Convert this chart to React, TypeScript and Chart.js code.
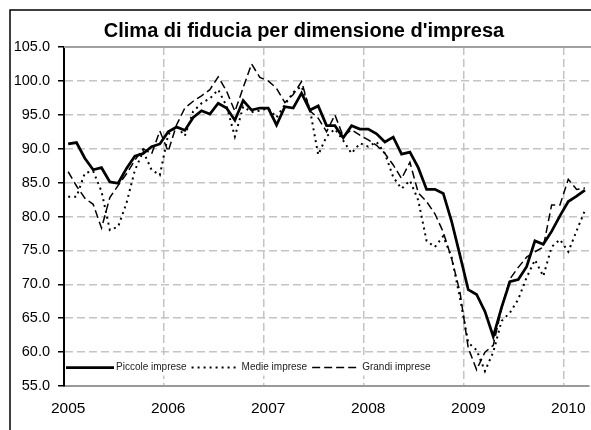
import React, { useEffect, useRef } from 'react';
import { Chart, registerables } from 'chart.js';

Chart.register(...registerables);

const years = ['2005', '2006', '2007', '2008', '2009', '2010'];
const monthsPerYear = [12, 12, 12, 12, 12, 3];

const piccole = [
  90.7, 90.9, 88.6, 86.9, 87.2, 85.1, 84.9, 87.1, 88.9, 89.3, 90.3, 90.7,
  92.5, 93.2, 92.7, 94.6, 95.6, 95.1, 96.7, 96.0, 94.2, 97.1, 95.7, 96.0,
  96.0, 93.5, 96.2, 96.0, 98.2, 95.7, 96.3, 93.4, 93.4, 91.6, 93.4, 92.9,
  92.9, 92.2, 91.0, 91.7, 89.2, 89.5, 87.2, 84.0, 84.0, 83.4, 79.3, 74.3,
  69.2, 68.5, 66.0, 62.3, 66.6, 70.4, 70.7, 72.6, 76.4, 75.9, 77.8, 80.1,
  82.2, 83.0, 83.9,
];

const medie = [
  82.9, 82.9, 86.4, 86.7, 83.7, 78.0, 78.5, 82.0, 86.8, 89.6, 86.9, 86.1,
  92.1, 93.3, 91.9, 95.5, 96.7, 97.4, 98.7, 96.3, 91.8, 96.2, 95.4, 95.6,
  96.0, 94.6, 96.5, 98.3, 99.2, 95.8, 89.1, 91.8, 92.9, 91.2, 89.3, 90.8,
  90.3, 91.0, 89.3, 85.8, 84.1, 85.3, 82.4, 76.4, 75.5, 77.1, 74.0, 68.0,
  61.4, 60.3, 57.2, 60.0, 64.6, 65.8, 67.8, 71.0, 73.6, 71.2, 75.5, 76.6,
  74.8, 77.9, 80.9,
];

const grandi = [
  86.6, 84.5, 82.7, 81.8, 78.3, 82.8, 84.6, 86.3, 88.3, 90.0, 89.2, 92.6,
  89.6, 93.5, 96.0, 97.0, 97.8, 98.7, 100.6, 98.5, 95.5, 99.0, 102.5, 100.5,
  100.0, 98.9, 96.8, 98.0, 99.9, 95.6, 94.5, 92.5, 95.0, 91.8, 92.8, 92.0,
  91.3, 90.5, 89.3, 87.6, 85.6, 88.0, 83.5, 82.2, 80.4, 77.7, 73.8, 68.9,
  60.6, 57.4, 60.0, 61.0, 66.5, 70.8, 72.5, 74.0, 74.8, 75.5, 81.7, 81.7,
  85.5, 84.0, 84.2,
];

const seriesNames = ['Piccole imprese', 'Medie imprese', 'Grandi imprese'];
const titleText = "Clima di fiducia per dimensione d'impresa";
const yMin = 55;
const yMax = 105;
const yStep = 5;

const categories: string[] = [];
years.forEach((y, yi) => {
  for (let m = 1; m <= monthsPerYear[yi]; m++) {
    categories.push(`${y}-${String(m).padStart(2, '0')}`);
  }
});

const FONT = '"Liberation Sans", Arial, sans-serif';
const W = 598;
const H = 440;
const GRID = '#c4c4c4';

const framePlugin = {
  id: 'frame',
  beforeDraw(chart: any) {
    const ctx = chart.ctx;
    ctx.save();
    ctx.strokeStyle = '#000';
    ctx.lineWidth = 1.5;
    ctx.strokeRect(10, 10, W + 50, H + 50);
    ctx.restore();
  },
};

const legendLayout = (chart: any) => {
  const ctx = chart.ctx;
  const { left, bottom } = chart.chartArea;
  ctx.save();
  ctx.font = `10px ${FONT}`;
  const items: any[] = [];
  let x = left + 2;
  chart.data.datasets.forEach((ds: any) => {
    const tw = ctx.measureText(ds.label).width;
    items.push({ ds, x0: x, x1: x + 48, tx: x + 50, tw });
    x = x + 50 + tw + 5;
  });
  ctx.restore();
  return { items, y: bottom - 18.5, end: x };
};

const legendPlugin = {
  id: 'insideLegend',
  beforeDatasetsDraw(chart: any) {
    const ctx = chart.ctx;
    const { top, left } = chart.chartArea;
    const { y, end } = legendLayout(chart);
    ctx.save();
    ctx.fillStyle = '#fff';
    ctx.fillRect(left + 1, y - 8, end - left, 16);
    ctx.strokeStyle = '#a0a0a0';
    ctx.lineWidth = 2;
    ctx.beginPath();
    ctx.moveTo(left, top);
    ctx.lineTo(chart.chartArea.right + 10, top);
    ctx.stroke();
    ctx.restore();
  },
  afterDatasetsDraw(chart: any) {
    const ctx = chart.ctx;
    const { items, y } = legendLayout(chart);
    ctx.save();
    items.forEach((it: any) => {
      ctx.strokeStyle = it.ds.borderColor;
      ctx.lineWidth = it.ds.borderWidth;
      ctx.setLineDash(it.ds.borderDash || []);
      ctx.beginPath();
      ctx.moveTo(it.x0, y);
      ctx.lineTo(it.x1, y);
      ctx.stroke();
      ctx.setLineDash([]);
      ctx.fillStyle = '#222';
      ctx.font = `10px ${FONT}`;
      ctx.textBaseline = 'middle';
      ctx.textAlign = 'left';
      ctx.fillText(it.ds.label, it.tx, y);
    });
    ctx.restore();
  },
};

export default function App() {
  const ref = useRef<HTMLCanvasElement | null>(null);

  useEffect(() => {
    if (!ref.current) return;
    Chart.defaults.font.family = FONT;
    const chart = new Chart(ref.current, {
      type: 'line',
      data: {
        labels: categories,
        datasets: [
          {
            label: seriesNames[0],
            data: piccole,
            borderColor: '#000',
            borderWidth: 2.75,
            pointRadius: 0,
            tension: 0,
            fill: false,
          },
          {
            label: seriesNames[1],
            data: medie,
            borderColor: '#000',
            borderWidth: 2,
            borderDash: [2, 4],
            pointRadius: 0,
            tension: 0,
            fill: false,
          },
          {
            label: seriesNames[2],
            data: grandi,
            borderColor: '#000',
            borderWidth: 1.5,
            borderDash: [8, 4],
            pointRadius: 0,
            tension: 0,
            fill: false,
          },
        ],
      },
      options: {
        responsive: false,
        animation: false,
        layout: { padding: { left: 10, top: 10, right: 0, bottom: 0 } },
        plugins: {
          legend: { display: false },
          tooltip: { enabled: false },
          title: {
            display: true,
            text: titleText,
            color: '#000',
            font: { family: FONT, size: 20, weight: 'bold' },
            padding: { top: 9.5, bottom: 3.5 },
          },
        },
        scales: {
          x: {
            type: 'category',
            offset: true,
            grid: {
              offset: true,
              color: (c: any) => (c.index % 12 === 0 ? GRID : 'rgba(0,0,0,0)'),
              lineWidth: 1.5,
              drawTicks: false,
            },
            border: { display: true, color: '#999', width: 2, dash: [8, 4] },
            ticks: {
              autoSkip: false,
              maxRotation: 0,
              padding: 13,
              color: '#000',
              font: { family: FONT, size: 15.5 },
              callback: (v: any, i: number) => (i % 12 === 0 ? categories[i].slice(0, 4) : ''),
            },
            afterFit: (s: any) => {
              s.height = H - 386;
            },
          },
          y: {
            min: yMin,
            max: yMax,
            ticks: {
              stepSize: yStep,
              padding: 8,
              color: '#000',
              font: { family: FONT, size: 14.5 },
              callback: (v: any) => Number(v).toFixed(1),
            },
            grid: {
              color: GRID,
              lineWidth: 1.5,
              tickColor: '#000',
              tickLength: 6,
              tickWidth: 1.5,
            },
            border: { display: true, color: '#000', width: 2, dash: [8, 4] },
            afterFit: (s: any) => {
              s.width = 54;
            },
          },
          yR: {
            position: 'right',
            display: true,
            grid: { display: false, drawTicks: false },
            border: { display: false },
            ticks: { display: false },
            afterFit: (s: any) => {
              s.width = 5.5;
            },
          },
        },
      } as any,
      plugins: [framePlugin, legendPlugin],
    });
    return () => chart.destroy();
  }, []);

  return (
    <div
      style={{
        position: 'fixed',
        left: 0,
        top: 0,
        width: 591,
        height: 430,
        overflow: 'hidden',
        background: '#fff',
      }}
    >
      <canvas ref={ref} width={W} height={H} style={{ display: 'block', width: W, height: H }} />
    </div>
  );
}
